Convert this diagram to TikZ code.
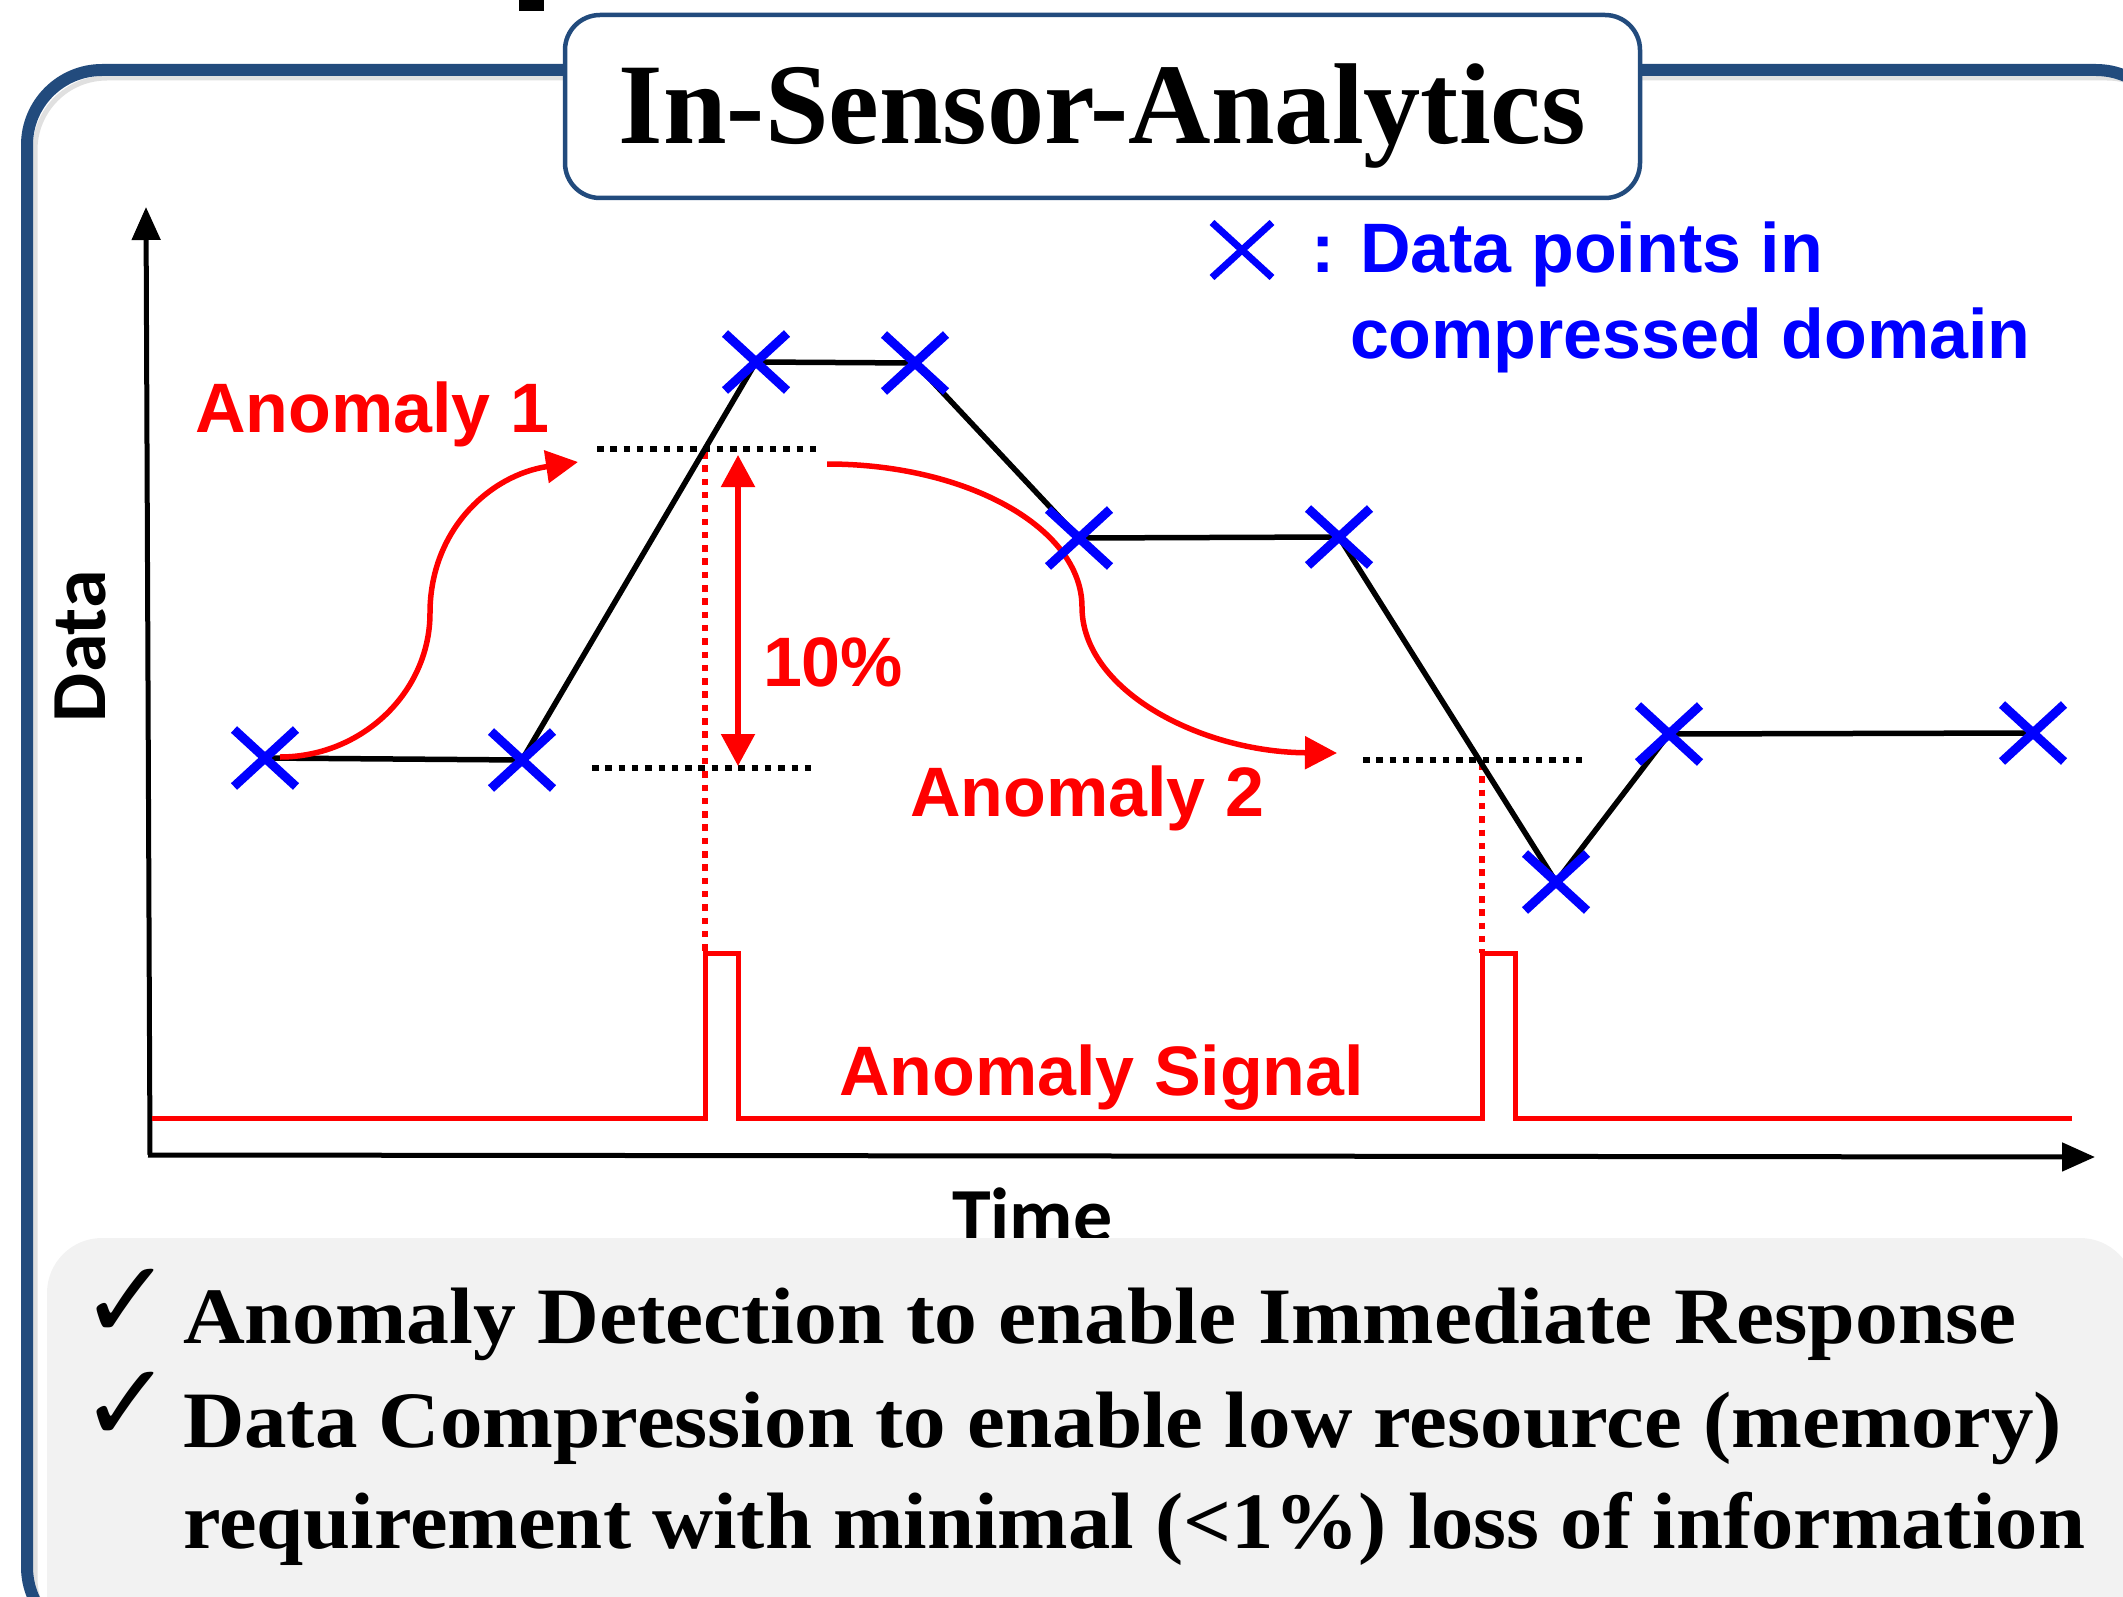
\documentclass[tikz,border=0pt]{standalone}
\usepackage{fontspec}
\setmainfont{Liberation Serif}
\newfontfamily\arialf{Liberation Sans}
\newfontfamily\calf{Carlito}
\newfontfamily\djv{DejaVu Sans}
\usetikzlibrary{arrows.meta,shapes.misc}
\definecolor{frameblue}{HTML}{224B7D}
\definecolor{boxgrey}{HTML}{F2F2F2}
\definecolor{pblue}{HTML}{0000FF}
\definecolor{pred}{HTML}{FF0000}
\tikzset{
  every node/.style={inner sep=0pt, outer sep=0pt},
  xmark/.style={cross out, draw=pblue, line width=9pt, minimum width=62pt, minimum height=57pt},
  redlbl/.style={anchor=base west, text=pred, font=\arialf\bfseries\fontsize{70}{80}\selectfont},
  bluelbl/.style={anchor=base west, text=pblue, font=\arialf\bfseries\fontsize{70}{80}\selectfont},
  axislbl/.style={font=\calf\bfseries\fontsize{78}{90}\selectfont},
  bodytxt/.style={anchor=base west, font=\bfseries\fontsize{80}{90}\selectfont},
  chkmark/.style={anchor=base west, font=\djv\fontsize{110}{110}\selectfont},
  dotblack/.style={black, line width=6pt, dash pattern=on 6.5pt off 6.8pt},
  dotred/.style={pred, line width=6pt, dash pattern=on 6.5pt off 6.8pt},
  redarrow/.style={pred, line width=5.5pt, -{Triangle[length=32pt,width=32pt]}},
  axisline/.style={black, line width=5pt, -{Triangle[length=33pt,width=28pt]}},
}
\begin{document}
\begin{tikzpicture}[x=1pt,y=-1pt]
\useasboundingbox (0,0) rectangle (2123,1597);
\begin{scope}
\clip (0,0) rectangle (2123,1597);
% clipped glyph remnant at top
\fill[black] (519,0) rectangle (544,11);
% outer frame with soft shadow
\draw[black!12, line width=5pt, rounded corners=72pt] (35,78) rectangle (2179,1650);
\draw[frameblue, line width=12pt, rounded corners=75pt] (27,70) rectangle (2171,1642);
% title box
\node[draw=frameblue, line width=4.5pt, fill=white, rounded corners=35pt,
      minimum width=1075pt, minimum height=183pt] (titlebox) at (1102.5,106.5) {};
\node[anchor=base, font=\bfseries\fontsize{115}{130}\selectfont] (title) at (1102.5,144)
  {\resizebox{967pt}{\height}{In-Sensor-Analytics}};

% axes
\coordinate (O) at (150,1155);
\coordinate (Ytop) at (146,207);
\coordinate (Xend) at (2095,1157);
\draw[axisline] (O) -- (Ytop);
\draw[axisline] (148,1155) -- (Xend);
\node[axislbl, rotate=90, anchor=base west] (ylbl) at (105,722) {Data};
\node[axislbl, anchor=base west] (xlbl) at (952,1242) {Time};

% data points
\coordinate (P1) at (265,758);
\coordinate (P2) at (522,760);
\coordinate (P3) at (756,362);
\coordinate (P4) at (915,363);
\coordinate (P5) at (1079,538);
\coordinate (P6) at (1339,537);
\coordinate (P7) at (1556,882);
\coordinate (P8) at (1669,734);
\coordinate (P9) at (2033,733);

% dotted thresholds
\draw[dotblack] (597,449) -- (818,449);
\draw[dotblack] (592,768) -- (812,768);
\draw[dotblack] (1363,760) -- (1584,760);
% red dotted drop lines
\draw[dotred] (705,452) -- (705,953);
\draw[dotred] (1482,763) -- (1482,953);

% compressed data line
\draw[black, line width=5.5pt, line join=round] (P1) -- (P2) -- (P3) -- (P4) -- (P5) -- (P6) -- (P7) -- (P8) -- (P9);

% anomaly signal
\draw[pred, line width=5pt] (152,1118) -- (705,1118) -- (705,953) -- (738,953) -- (738,1118)
  -- (1482,1118) -- (1482,953) -- (1515,953) -- (1515,1118) -- (2072,1118);

% 10% arrow
\draw[pred, line width=5.5pt, {Triangle[length=32pt,width=33pt]}-{Triangle[length=32pt,width=33pt]}] (738,455) -- (738,766);
\node[redlbl] (pct) at (763,686) {10\%};

% anomaly arrows
\draw[redarrow] (280,757) .. controls (362,757) and (430,692) .. (430,613)
  .. controls (430,530) and (490,475) .. (578,462);
\draw[redarrow] (827,464) .. controls (967,464) and (1082,528) .. (1082,607)
  .. controls (1082,690) and (1200,752) .. (1337,753);

% crosses
\node[xmark] (X1) at (P1) {};
\node[xmark] (X2) at (P2) {};
\node[xmark] (X3) at (P3) {};
\node[xmark] (X4) at (P4) {};
\node[xmark] (X5) at (P5) {};
\node[xmark] (X6) at (P6) {};
\node[xmark] (X7) at (P7) {};
\node[xmark] (X8) at (P8) {};
\node[xmark] (X9) at (P9) {};

% labels
\node[redlbl] (an1) at (195,432) {Anomaly 1};
\node[redlbl] (an2) at (910,816) {Anomaly 2};
\node[redlbl] (ansig) at (839,1095) {Anomaly Signal};

% legend
\node[cross out, draw=pblue, line width=7pt, minimum width=60pt, minimum height=55pt] (legx) at (1242,250) {};
\node[bluelbl] (leg1) at (1311,273) {: Data points in};
\node[bluelbl] (leg2) at (1350,358) {compressed domain};

% bottom grey panel
\fill[boxgrey, rounded corners=55pt] (47,1238) rectangle (2135,1720);
\node[chkmark] (chk1) at (80,1338) {✓};
\node[chkmark] (chk2) at (80,1441) {✓};
\node[bodytxt] (b1) at (183,1343) {\resizebox{1834pt}{\height}{Anomaly Detection to enable Immediate Response}};
\node[bodytxt] (b2) at (183,1447) {\resizebox{1879pt}{\height}{Data Compression to enable low resource (memory)}};
\node[bodytxt] (b3) at (183,1548) {\resizebox{1902pt}{\height}{requirement with minimal (<1\%) loss of information}};
\end{scope}
\end{tikzpicture}
\end{document}
